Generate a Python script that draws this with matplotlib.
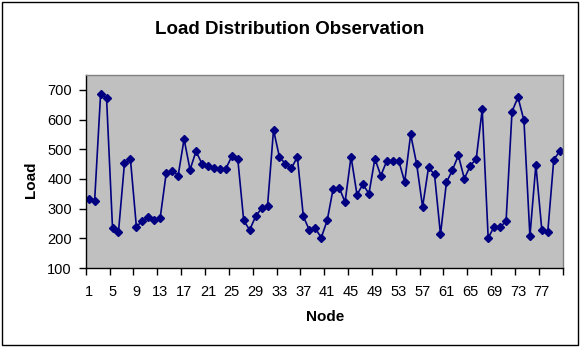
import numpy as np
import matplotlib
matplotlib.use("Agg")
import matplotlib.pyplot as plt
from matplotlib.patches import Rectangle

plt.rcParams["font.family"] = ["Liberation Sans", "DejaVu Sans"]

nodes = np.arange(1, 81)
load = [
    331, 327, 687, 671, 234, 222, 452, 467, 239, 258,
    271, 262, 270, 419, 428, 411, 534, 431, 493, 451,
    445, 437, 434, 434, 476, 468, 260, 228, 274, 301,
    310, 565, 473, 451, 436, 474, 274, 228, 234, 202,
    260, 367, 371, 322, 475, 347, 382, 350, 468, 411,
    461, 461, 461, 390, 550, 451, 306, 439, 415, 213,
    388, 430, 479, 401, 444, 468, 634, 201, 239, 238,
    257, 627, 675, 597, 207, 447, 228, 222, 465, 493,
]
x_labels = np.arange(1, 81, 4)
y_ticks = [100, 200, 300, 400, 500, 600, 700]

fig = plt.figure(figsize=(5.81, 3.51), dpi=100)
ax = fig.add_axes([85.7 / 581, 1 - 268 / 351, 477 / 581, 193 / 351])
ax.set_facecolor("#c0c0c0")

ax.plot(nodes, load, color="#000080", linewidth=1.2,
        marker="D", markersize=4.5, markerfacecolor="#000080",
        markeredgecolor="#000080")

ax.set_xlim(0.5, 80.5)
ax.set_ylim(100, 750)
ax.set_yticks(y_ticks)
ax.tick_params(axis="y", direction="out", length=5, width=1, pad=5,
               labelsize=10.5, colors="black")

# ticks sit between categories, labels under category centres
ax.set_xticks(np.arange(0.5, 81, 4))
ax.set_xticklabels([])
ax.set_xticks(x_labels, minor=True)
ax.set_xticklabels([str(v) for v in x_labels], minor=True)
ax.tick_params(axis="x", which="major", direction="out", length=5, width=1)
ax.tick_params(axis="x", which="minor", length=0, pad=12, labelsize=10.5)

for s in ["left", "bottom"]:
    ax.spines[s].set_color("black")
    ax.spines[s].set_linewidth(1)
for s in ["top", "right"]:
    ax.spines[s].set_color("#808080")
    ax.spines[s].set_linewidth(1)

fig.text(290 / 581, 1 - 30 / 351, "Load Distribution Observation",
         ha="center", va="center", fontsize=13.5, fontweight="bold")
fig.text(31 / 581, 1 - 180 / 351, "Load", rotation=90,
         ha="center", va="center", fontsize=11, fontweight="bold")
fig.text(325 / 581, 1 - 317 / 351, "Node",
         ha="center", va="center", fontsize=11, fontweight="bold")

fig.patches.append(Rectangle((1.5 / 581, 1 - 344.5 / 351), 576 / 581, 343 / 351,
                             transform=fig.transFigure, fill=False,
                             edgecolor="black", linewidth=1))

fig.savefig("out.png", dpi=100, facecolor="white")
